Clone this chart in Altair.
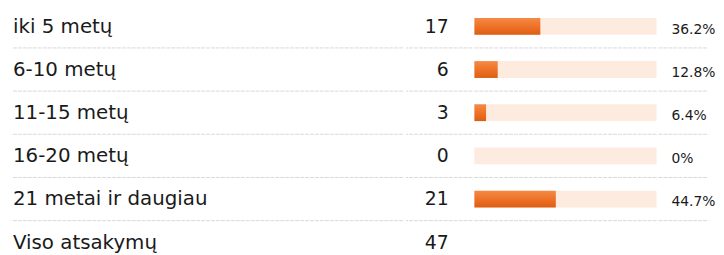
import altair as alt
import pandas as pd

labels = ["iki 5 metų", "6-10 metų", "11-15 metų", "16-20 metų", "21 metai ir daugiau", "Viso atsakymų"]
counts = ["17", "6", "3", "0", "21", "47"]
percents = [36.2, 12.8, 6.4, 0.0, 44.7]
pct_labels = ["36.2%", "12.8%", "6.4%", "0%", "44.7%"]

rows = pd.DataFrame({"row": list(range(len(labels))), "label": labels, "count": counts})
bars = pd.DataFrame({"row": list(range(len(percents))), "pct": percents,
                     "pct_label": pct_labels, "full": [100.0] * len(percents)})
seps = pd.DataFrame({"sep": [i + 0.5 for i in range(len(percents))]})

H = 247
yscale = alt.Scale(domain=[-0.397, 5.268], reverse=True, nice=False, zero=False)
ycfg = dict(axis=None, scale=yscale)
FONT = "DejaVu Sans"
TXT = "#1a1a1a"
SEP = dict(color="#d9d9d9", strokeWidth=1, strokeDash=[4, 1])


def sep_layer():
    return alt.Chart(seps).mark_rule(**SEP).encode(
        y=alt.Y("sep:Q", **ycfg)
    )


# Panel A: category labels
pa = alt.layer(
    alt.Chart(seps).mark_rule(**SEP).encode(
        y=alt.Y("sep:Q", **ycfg), x=alt.value(5), x2=alt.value(400)
    ),
    alt.Chart(rows).mark_text(align="left", baseline="alphabetic", dy=6.5,
                              font=FONT, fontSize=20, color=TXT).encode(
        y=alt.Y("row:Q", **ycfg), x=alt.value(5), text="label:N"
    ),
).properties(width=400, height=H)

# Panel B: counts
pb = alt.layer(
    sep_layer(),
    alt.Chart(rows).mark_text(align="right", baseline="alphabetic", dy=6.5,
                              font=FONT, fontSize=19, color=TXT).encode(
        y=alt.Y("row:Q", **ycfg), x=alt.value(43), text="count:N"
    ),
).properties(width=67, height=H)

# Panel C: bars
xscale = alt.Scale(domain=[0, 100], nice=False, zero=True)
grad = alt.Gradient(
    gradient="linear",
    stops=[alt.GradientStop(color="#f58a45", offset=0),
           alt.GradientStop(color="#ee7228", offset=0.5),
           alt.GradientStop(color="#dc5e12", offset=1)],
    x1=0, x2=0, y1=0, y2=1,
)
base_c = alt.Chart(bars).transform_calculate(
    top="datum.row - 0.195", bot="datum.row + 0.195"
)
pc = alt.layer(
    sep_layer(),
    base_c.mark_bar(color="#fdebe0").encode(
        y=alt.Y("top:Q", **ycfg), y2="bot:Q",
        x=alt.X("full:Q", axis=None, scale=xscale),
        x2=alt.datum(0),
    ),
    base_c.transform_filter("datum.pct > 0").mark_bar(color=grad).encode(
        y=alt.Y("top:Q", **ycfg), y2="bot:Q",
        x=alt.X("pct:Q", axis=None, scale=xscale),
        x2=alt.datum(0),
    ),
).properties(width=184, height=H)

# Panel D: percent labels
pd_ = alt.layer(
    sep_layer(),
    alt.Chart(bars).mark_text(align="left", baseline="alphabetic", dy=7.5,
                              font=FONT, fontSize=14, color=TXT).encode(
        y=alt.Y("row:Q", **ycfg), x=alt.value(13), text="pct_label:N"
    ),
).properties(width=49, height=H)

chart = alt.hconcat(pa, pb, pc, pd_, spacing=0).properties(padding=0).configure_view(
    stroke=None
).configure_concat(spacing=0)

chart.save("out.html", embed_options={"renderer": "svg", "actions": False})
